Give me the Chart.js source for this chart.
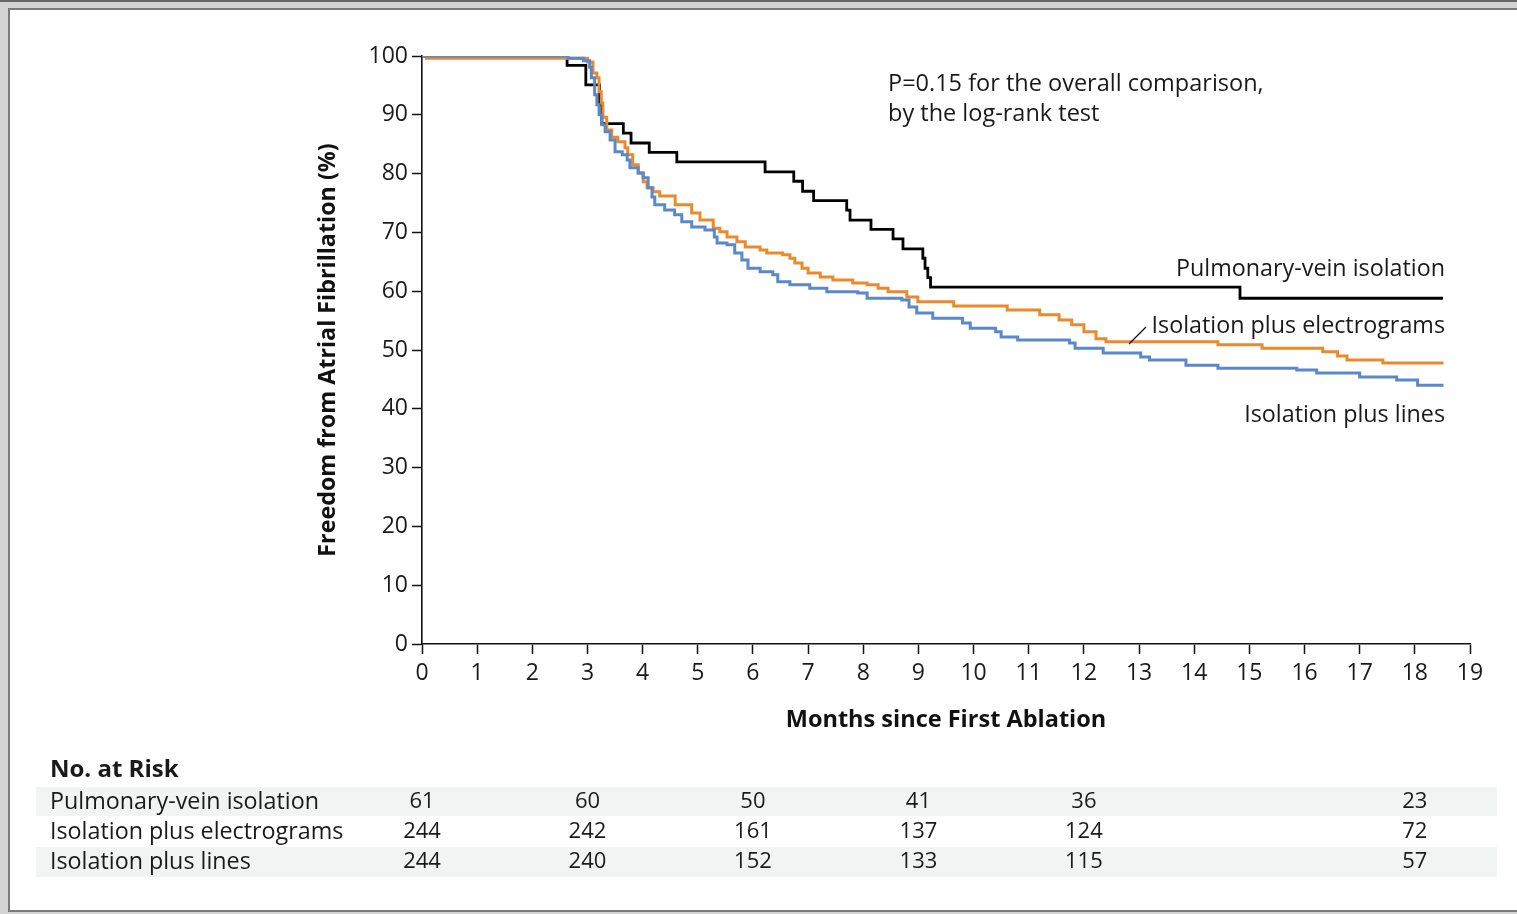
<!DOCTYPE html>
<html><head><meta charset="utf-8">
<script src="https://cdn.jsdelivr.net/npm/chart.js@4.4.1/dist/chart.umd.min.js"></script>
<style>
html,body{margin:0;padding:0;}
body{width:1517px;height:914px;overflow:hidden;background:#d4d4d4;position:relative;}
#topline{position:absolute;left:0;top:0;width:1517px;height:2px;background:#666;}
#frame{position:absolute;left:8px;top:8px;width:1540px;height:900px;border:2px solid #7b7b7b;background:#fff;}
#wrap{position:absolute;left:0;top:0;width:1517px;height:914px;}
</style></head>
<body><div id="topline"></div><div id="frame"></div>
<div id="wrap"><canvas id="c" width="1517" height="914"></canvas></div>
<script>
const FONT = "'Open Sans', 'Noto Sans', sans-serif";
const xTicks = [0,1,2,3,4,5,6,7,8,9,10,11,12,13,14,15,16,17,18,19];
const yTicks = [0,10,20,30,40,50,60,70,80,90,100];

const pviTime = [0,2.63,2.97,3.22,3.26,3.65,3.79,4.12,4.62,6.22,6.74,6.9,7.1,7.7,7.76,8.14,8.54,8.72,9.08,9.12,9.17,9.22,14.83,18.51];
const pviSurv = [100,98.4,95.1,91.8,88.5,86.9,85.2,83.6,82.0,80.3,78.7,77.0,75.4,73.8,72.1,70.5,68.9,67.2,65.6,63.9,62.3,60.7,58.8,58.8];

const egmTime = [0,0.08,3.0,3.1,3.17,3.21,3.25,3.28,3.35,3.44,3.55,3.68,3.73,3.82,3.92,4.01,4.08,4.19,4.31,4.59,4.89,5.04,5.28,5.40,5.53,5.71,5.86,6.13,6.25,6.54,6.67,6.76,6.89,7.0,7.22,7.45,7.81,8.07,8.27,8.45,8.79,8.99,9.64,10.61,11.2,11.55,11.78,12.0,12.22,12.4,14.43,15.23,16.33,16.6,16.77,17.42,18.52];
const egmSurv = [100,99.6,99.0,97.1,96.3,93.9,92.0,89.6,87.4,86.2,85.4,84.4,83.2,81.5,80.1,78.6,77.6,76.9,76.2,74.7,73.3,72.1,70.7,70.1,69.2,68.4,67.5,67.0,66.5,66.2,65.6,64.8,63.9,63.1,62.4,61.9,61.4,61.1,60.5,59.9,59.0,58.2,57.5,56.8,56.0,55.1,54.3,53.1,51.9,51.4,50.9,50.3,49.7,49.0,48.3,47.8,47.8];

const linTime = [0,2.65,2.93,3.04,3.07,3.13,3.17,3.21,3.26,3.32,3.41,3.5,3.63,3.72,3.77,3.92,4.01,4.1,4.17,4.22,4.4,4.58,4.71,4.89,5.13,5.3,5.35,5.53,5.67,5.8,5.91,6.13,6.36,6.45,6.67,7.03,7.34,7.9,8.07,8.7,8.83,8.97,9.26,9.8,9.94,10.4,10.5,10.8,11.74,11.84,12.35,13.03,13.19,13.85,14.43,15.86,16.22,17.0,17.67,18.05,18.52];
const linSurv = [100,99.6,99.2,98.1,96.3,93.4,91.7,90.0,88.3,87.1,85.7,83.7,83.2,82.3,81.0,80.1,79.3,77.6,76.0,74.7,73.8,73.0,71.8,70.9,70.4,69.2,68.2,67.9,66.5,65.3,63.9,63.3,62.8,61.6,61.1,60.5,59.9,59.7,58.8,58.5,57.3,56.3,55.4,54.6,53.7,53.1,52.2,51.7,51.2,50.3,49.5,48.8,48.3,47.4,46.9,46.6,46.1,45.4,44.9,44.0,44.0];

const riskMonths = [0,3,6,9,12,18];
const riskPVI = [61,60,50,41,36,23];
const riskEGM = [244,242,161,137,124,72];
const riskLIN = [244,240,152,133,115,57];
const groupNames = ["Pulmonary-vein isolation","Isolation plus electrograms","Isolation plus lines"];

function pts(t, s){ return t.map((v,i)=>({x:v,y:s[i]})); }

const overlay = {
  id:'overlay',
  beforeDraw(chart){
    const ctx = chart.ctx;
    ctx.save();
    ctx.fillStyle = '#f2f4f3';
    ctx.fillRect(36, 787, 1461, 29);
    ctx.fillRect(36, 847, 1461, 30);
    ctx.restore();
  },
  afterDraw(chart){
    const ctx = chart.ctx;
    const xs = chart.scales.x;
    ctx.save();
    ctx.fillStyle = '#1a1a1a';
    ctx.textBaseline = 'middle';
    ctx.font = '23.5px ' + FONT;
    ctx.textAlign = 'left';
    ctx.fillText('P=0.15 for the overall comparison,', 888, 84);
    ctx.fillText('by the log-rank test', 888, 114);
    ctx.font = '23.3px ' + FONT;
    ctx.textAlign = 'right';
    ctx.fillText(groupNames[0], 1445, 269);
    ctx.fillText(groupNames[1], 1445, 326);
    ctx.fillText(groupNames[2], 1445, 415);
    ctx.strokeStyle = '#111'; ctx.lineWidth = 1.3;
    ctx.beginPath(); ctx.moveTo(1129, 344); ctx.lineTo(1146, 327); ctx.stroke();
    // table
    ctx.textAlign = 'left';
    ctx.font = 'bold 24px ' + FONT;
    ctx.fillText('No. at Risk', 50, 770);
    const rows = [riskPVI, riskEGM, riskLIN];
    const rowY = [802, 832, 862];
    rows.forEach((r, i) => {
      ctx.font = '23.3px ' + FONT;
      ctx.textAlign = 'left';
      ctx.fillText(groupNames[i], 50, rowY[i]);
      ctx.font = '22px ' + FONT;
      ctx.textAlign = 'center';
      r.forEach((v, j) => ctx.fillText(String(v), xs.getPixelForValue(riskMonths[j]), rowY[i]));
    });
    ctx.restore();
  }
};

new Chart(document.getElementById('c'), {
  type:'line',
  data:{ datasets:[
    {label:groupNames[2], data:pts(linTime,linSurv), borderColor:'#5b88c9', borderWidth:3, stepped:true, pointRadius:0, fill:false, order:1},
    {label:groupNames[1], data:pts(egmTime,egmSurv), borderColor:'#e98a2c', borderWidth:3, stepped:true, pointRadius:0, fill:false, order:2},
    {label:groupNames[0], data:pts(pviTime,pviSurv), borderColor:'#000000', borderWidth:2.8, stepped:true, pointRadius:0, fill:false, order:3}
  ]},
  options:{
    responsive:false, animation:false, devicePixelRatio:1,
    layout:{padding:{left:300, top:56, right:47, bottom:174}},
    plugins:{legend:{display:false}, tooltip:{enabled:false}},
    scales:{
      x:{type:'linear', min:0, max:19,
        afterBuildTicks:(s)=>{ s.ticks = xTicks.map(v=>({value:v})); },
        afterFit:(s)=>{ s.height = 96; },
        ticks:{autoSkip:false, maxRotation:0, padding:6, color:'#1a1a1a', font:{family:FONT, size:23}},
        grid:{drawOnChartArea:false, tickLength:10, tickColor:'#111', tickWidth:1.5},
        border:{color:'#111', width:1.6},
        title:{display:true, text:'Months since First Ablation', color:'#111', font:{family:FONT, size:23.5, weight:'bold'}, padding:{top:0,bottom:6}}
      },
      y:{type:'linear', min:0, max:100,
        afterBuildTicks:(s)=>{ s.ticks = yTicks.map(v=>({value:v})); },
        afterFit:(s)=>{ s.width = 122; },
        ticks:{autoSkip:false, padding:4, color:'#1a1a1a', font:{family:FONT, size:23}},
        grid:{drawOnChartArea:false, tickLength:10, tickColor:'#111', tickWidth:1.5},
        border:{color:'#111', width:1.6},
        title:{display:true, text:'Freedom from Atrial Fibrillation (%)', color:'#111', font:{family:FONT, size:23.3, weight:'bold'}, padding:{top:14,bottom:0}}
      }
    }
  },
  plugins:[overlay]
});
</script>
</body></html>
